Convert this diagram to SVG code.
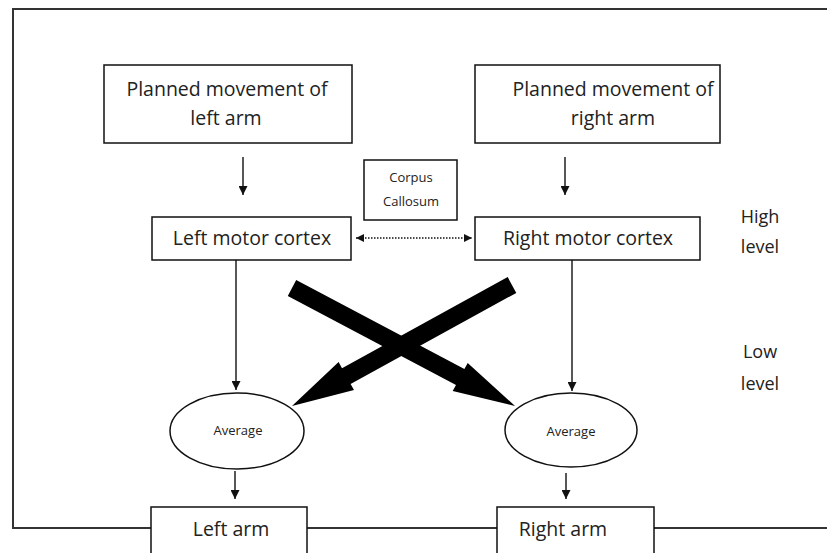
<svg xmlns="http://www.w3.org/2000/svg" width="827" height="553" viewBox="0 0 827 553">
<defs>
<style>
.box{fill:#fff;stroke:#111;stroke-width:1.5}
.frame{fill:none;stroke:#333;stroke-width:2}
.t{font-family:"Open Sans","Noto Sans",sans-serif;fill:#222;text-anchor:middle}
.big{font-size:19.5px}
.sm{font-size:13px}
.lbl{font-size:18px}
.ln{stroke:#111;stroke-width:1.4;fill:none}
.dot{stroke:#111;stroke-width:1.4;stroke-dasharray:1.5 1.5;fill:none}
.thick{fill:#000}
</style>
<marker id="ah" viewBox="0 0 10 10" refX="10" refY="5" markerWidth="8" markerHeight="8" markerUnits="userSpaceOnUse" orient="auto-start-reverse">
<path d="M0,0 L10,5 L0,10 z" fill="#111"/>
</marker>
<marker id="ah2" viewBox="0 0 10 10" refX="10" refY="5" markerWidth="9" markerHeight="9" markerUnits="userSpaceOnUse" orient="auto-start-reverse">
<path d="M0,0 L10,5 L0,10 z" fill="#111"/>
</marker>
</defs>
<rect width="827" height="553" fill="#fff"/>
<path class="frame" d="M827,9 H13 V528 H827"/>

<g id="connectors">
<line class="ln" x1="243" y1="157" x2="243" y2="195" marker-end="url(#ah2)"/>
<line class="ln" x1="565" y1="157" x2="565" y2="195" marker-end="url(#ah2)"/>
<line class="dot" x1="356" y1="238" x2="472" y2="238" marker-start="url(#ah)" marker-end="url(#ah)"/>
<line class="ln" x1="236" y1="260" x2="236" y2="390" marker-end="url(#ah2)"/>
<line class="ln" x1="572" y1="260" x2="572" y2="391" marker-end="url(#ah2)"/>
<line class="ln" x1="235" y1="471" x2="235" y2="499" marker-end="url(#ah2)"/>
<line class="ln" x1="566" y1="473" x2="566" y2="499" marker-end="url(#ah2)"/>
<polygon class="thick" points="296.2,280 464.4,369 467.7,362.9 515,406 452.7,391.1 456,385 287.8,296"/>
<polygon class="thick" points="507.7,277.1 342,368.2 338.6,362.1 292,406 354,390.1 350.6,384 516.3,292.9"/>
</g>

<g id="planned-left">
<rect class="box" x="104" y="65" width="248" height="78"/>
<text class="t big" x="227" y="96">Planned movement of</text>
<text class="t big" x="226" y="125">left arm</text>
</g>
<g id="planned-right">
<rect class="box" x="475" y="65" width="245" height="78"/>
<text class="t big" x="613" y="96">Planned movement of</text>
<text class="t big" x="613" y="125">right arm</text>
</g>
<g id="corpus-callosum">
<rect class="box" x="364" y="160" width="93" height="60"/>
<text class="t sm" x="411" y="182">Corpus</text>
<text class="t sm" x="411" y="206">Callosum</text>
</g>
<g id="left-cortex">
<rect class="box" x="152" y="217" width="199" height="43"/>
<text class="t big" x="252" y="245">Left motor cortex</text>
</g>
<g id="right-cortex">
<rect class="box" x="475" y="217" width="225" height="43"/>
<text class="t big" x="588" y="245">Right motor cortex</text>
</g>
<g id="high-level">
<text class="t lbl" x="760" y="223">High</text>
<text class="t lbl" x="760" y="253">level</text>
</g>
<g id="low-level">
<text class="t lbl" x="760" y="358">Low</text>
<text class="t lbl" x="760" y="390">level</text>
</g>
<g id="average-left">
<ellipse class="box" cx="237" cy="431" rx="67" ry="38"/>
<text class="t sm" x="238" y="435">Average</text>
</g>
<g id="average-right">
<ellipse class="box" cx="571" cy="430" rx="66" ry="37"/>
<text class="t sm" x="571" y="436">Average</text>
</g>
<g id="left-arm">
<rect class="box" x="151" y="507" width="156" height="60"/>
<text class="t big" x="231" y="536">Left arm</text>
</g>
<g id="right-arm">
<rect class="box" x="497" y="507" width="157" height="60"/>
<text class="t big" x="563" y="536">Right arm</text>
</g>
</svg>
